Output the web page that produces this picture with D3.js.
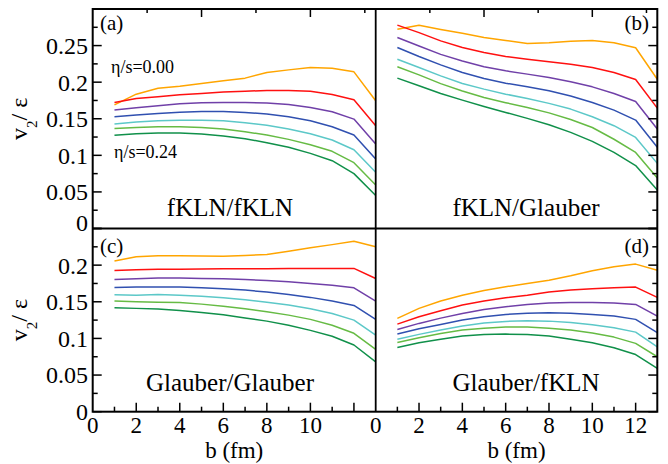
<!DOCTYPE html>
<html>
<head>
<meta charset="utf-8">
<script src="https://cdn.jsdelivr.net/npm/d3@7"></script>
<style>
  html, body { margin: 0; padding: 0; background: #fff; }
  svg { display: block; }
  text { font-family: "Liberation Serif", "Times New Roman", serif; fill: #000; }
</style>
</head>
<body>
<svg id="chart" width="668" height="464"></svg>
<script>
// ---------------- data ----------------
const bValues = [1, 2, 3, 4, 5, 6, 7, 8, 9, 10, 11, 12, 13];
const etaValues = ["0.00", "0.04", "0.08", "0.12", "0.16", "0.20", "0.24"];
const seriesColors = ["#ffa500", "#ff1010", "#7040a8", "#3050b0", "#5cc8c8", "#66bb44", "#10904a"];

// (a) fKLN/fKLN
const panelA = [
  [0.1690, 0.1836, 0.1918, 0.1945, 0.1982, 0.2018, 0.2055, 0.2132, 0.2168, 0.2200, 0.2191, 0.2141, 0.1745],
  [0.1723, 0.1777, 0.1800, 0.1827, 0.1846, 0.1864, 0.1877, 0.1886, 0.1886, 0.1877, 0.1832, 0.1759, 0.1405],
  [0.1618, 0.1650, 0.1677, 0.1705, 0.1718, 0.1723, 0.1723, 0.1714, 0.1695, 0.1655, 0.1595, 0.1495, 0.1155],
  [0.1527, 0.1550, 0.1573, 0.1590, 0.1600, 0.1600, 0.1586, 0.1564, 0.1527, 0.1473, 0.1390, 0.1277, 0.0950],
  [0.1427, 0.1455, 0.1473, 0.1480, 0.1480, 0.1473, 0.1445, 0.1410, 0.1360, 0.1295, 0.1210, 0.1077, 0.0768],
  [0.1368, 0.1380, 0.1390, 0.1390, 0.1380, 0.1360, 0.1323, 0.1277, 0.1218, 0.1145, 0.1055, 0.0900, 0.0595],
  [0.1273, 0.1295, 0.1305, 0.1305, 0.1290, 0.1264, 0.1227, 0.1173, 0.1110, 0.1027, 0.0927, 0.0750, 0.0450]
];
// (b) fKLN/Glauber
const panelB = [
  [0.2723, 0.2777, 0.2720, 0.2668, 0.2610, 0.2570, 0.2530, 0.2540, 0.2560, 0.2570, 0.2540, 0.2470, 0.2040],
  [0.2780, 0.2677, 0.2564, 0.2473, 0.2405, 0.2350, 0.2314, 0.2280, 0.2245, 0.2200, 0.2132, 0.2036, 0.1645],
  [0.2610, 0.2495, 0.2380, 0.2290, 0.2210, 0.2155, 0.2110, 0.2064, 0.2005, 0.1936, 0.1845, 0.1736, 0.1360],
  [0.2473, 0.2350, 0.2236, 0.2132, 0.2050, 0.1986, 0.1936, 0.1882, 0.1810, 0.1723, 0.1618, 0.1482, 0.1110],
  [0.2314, 0.2200, 0.2086, 0.1982, 0.1905, 0.1836, 0.1777, 0.1710, 0.1632, 0.1527, 0.1405, 0.1245, 0.0890],
  [0.2210, 0.2100, 0.1980, 0.1880, 0.1790, 0.1720, 0.1655, 0.1580, 0.1490, 0.1380, 0.1220, 0.1040, 0.0690],
  [0.2055, 0.1950, 0.1845, 0.1755, 0.1668, 0.1586, 0.1505, 0.1418, 0.1314, 0.1190, 0.1040, 0.0860, 0.0527]
];
// (c) Glauber/Glauber
const panelC = [
  [0.2055, 0.2114, 0.2127, 0.2127, 0.2125, 0.2123, 0.2132, 0.2145, 0.2190, 0.2236, 0.2280, 0.2327, 0.2250],
  [0.1927, 0.1936, 0.1945, 0.1945, 0.1948, 0.1950, 0.1950, 0.1952, 0.1955, 0.1955, 0.1955, 0.1955, 0.1818],
  [0.1805, 0.1814, 0.1823, 0.1823, 0.1818, 0.1814, 0.1805, 0.1790, 0.1773, 0.1750, 0.1727, 0.1690, 0.1510],
  [0.1695, 0.1700, 0.1700, 0.1700, 0.1690, 0.1677, 0.1660, 0.1632, 0.1600, 0.1560, 0.1510, 0.1450, 0.1260],
  [0.1595, 0.1590, 0.1600, 0.1590, 0.1577, 0.1555, 0.1527, 0.1495, 0.1455, 0.1405, 0.1340, 0.1250, 0.1045],
  [0.1510, 0.1500, 0.1495, 0.1490, 0.1468, 0.1440, 0.1405, 0.1364, 0.1318, 0.1260, 0.1180, 0.1070, 0.0850],
  [0.1418, 0.1410, 0.1400, 0.1380, 0.1355, 0.1323, 0.1280, 0.1236, 0.1180, 0.1110, 0.1030, 0.0910, 0.0680]
];
// (d) Glauber/fKLN
const panelD = [
  [0.1273, 0.1410, 0.1510, 0.1590, 0.1655, 0.1705, 0.1750, 0.1795, 0.1855, 0.1923, 0.1977, 0.2014, 0.1930],
  [0.1195, 0.1295, 0.1377, 0.1455, 0.1510, 0.1555, 0.1590, 0.1632, 0.1660, 0.1677, 0.1690, 0.1700, 0.1560],
  [0.1123, 0.1205, 0.1277, 0.1340, 0.1395, 0.1432, 0.1464, 0.1482, 0.1490, 0.1490, 0.1482, 0.1464, 0.1305],
  [0.1059, 0.1132, 0.1190, 0.1250, 0.1295, 0.1327, 0.1345, 0.1350, 0.1345, 0.1327, 0.1305, 0.1260, 0.1080],
  [0.0990, 0.1055, 0.1114, 0.1168, 0.1210, 0.1232, 0.1240, 0.1236, 0.1218, 0.1186, 0.1145, 0.1086, 0.0886],
  [0.0945, 0.1009, 0.1068, 0.1114, 0.1140, 0.1155, 0.1155, 0.1140, 0.1114, 0.1073, 0.1018, 0.0932, 0.0750],
  [0.0877, 0.0940, 0.0990, 0.1032, 0.1055, 0.1059, 0.1055, 0.1032, 0.0990, 0.0940, 0.0873, 0.0780, 0.0590]
];

const panelTitles = ["fKLN/fKLN", "fKLN/Glauber", "Glauber/Glauber", "Glauber/fKLN"];
const panelTags = ["(a)", "(b)", "(c)", "(d)"];
const xTickLabelsLeft = [0, 2, 4, 6, 8, 10];
const xTickLabelsRight = [0, 2, 4, 6, 8, 10, 12];
const yTickLabelsTop = [0, 0.05, 0.1, 0.15, 0.2, 0.25];
const yTickLabelsBottom = [0, 0.05, 0.1, 0.15, 0.2];

// ---------------- layout ----------------
const svg = d3.select("#chart");
const X0 = 92.7, XM = 375.7, X1 = 657.3;
const Y0 = 9, YM = 228.5, Y1 = 411.7;

const xLeft = d3.scaleLinear().domain([0, 13]).range([X0, XM]);
const xRight = d3.scaleLinear().domain([0, 13]).range([XM, X1]);
const yTop = d3.scaleLinear().domain([0, 0.3]).range([YM, Y0]);
const yBottom = d3.scaleLinear().domain([0, 0.25]).range([Y1, YM]);

const panels = [
  { data: panelA, x: xLeft, y: yTop, side: "left", pos: "top" },
  { data: panelB, x: xRight, y: yTop, side: "right", pos: "top" },
  { data: panelC, x: xLeft, y: yBottom, side: "left", pos: "bottom" },
  { data: panelD, x: xRight, y: yBottom, side: "right", pos: "bottom" }
];

const tickStroke = 1.5;

panels.forEach((p, i) => {
  const g = svg.append("g");
  const line = d3.line().x((d, j) => p.x(bValues[j])).y(d => p.y(d));
  // curves
  p.data.forEach((s, k) => {
    g.append("path")
      .attr("d", line(s))
      .attr("fill", "none")
      .attr("stroke", seriesColors[k])
      .attr("stroke-width", 1.5)
      .attr("stroke-linejoin", "round");
  });

  const [xa, xb] = p.x.range();
  const [ya, yb] = p.y.range(); // ya bottom, yb top

  // y ticks (inside)
  const yMajor = d3.range(0, p.y.domain()[1] + 1e-9, 0.05);
  const yMinor = d3.range(0.025, p.y.domain()[1], 0.05);
  const yx = p.side === "left" ? xa : xb;
  const dir = p.side === "left" ? 1 : -1;
  const yAxisG = g.append("g");
  yMajor.forEach(v => {
    yAxisG.append("line").attr("x1", yx).attr("x2", yx + dir * 9)
      .attr("y1", p.y(v)).attr("y2", p.y(v))
      .attr("stroke", "#000").attr("stroke-width", tickStroke);
  });
  yMinor.forEach(v => {
    yAxisG.append("line").attr("x1", yx).attr("x2", yx + dir * 5)
      .attr("y1", p.y(v)).attr("y2", p.y(v))
      .attr("stroke", "#000").attr("stroke-width", tickStroke);
  });

  if (p.pos === "bottom") {
    // bottom x ticks
    d3.range(1, 13).forEach(b => {
      const len = b % 2 === 0 ? 9 : 5;
      g.append("line").attr("x1", p.x(b)).attr("x2", p.x(b))
        .attr("y1", ya).attr("y2", ya - len)
        .attr("stroke", "#000").attr("stroke-width", tickStroke);
    });
    const labs = p.side === "left" ? xTickLabelsLeft : xTickLabelsRight;
    labs.forEach(b => {
      g.append("text").attr("x", p.x(b)).attr("y", 432.5)
        .attr("text-anchor", "middle").attr("font-size", 23).text(b);
    });
    g.append("text").attr("x", (xa + xb) / 2).attr("y", 457.5)
      .attr("text-anchor", "middle").attr("font-size", 23).text("b (fm)");
  } else {
    // top ticks every 2.5
    [2.5, 5, 7.5, 10, 12.5].forEach(b => {
      const len = (b % 5 === 0) ? 8 : 4;
      g.append("line").attr("x1", p.x(b)).attr("x2", p.x(b))
        .attr("y1", yb).attr("y2", yb + len)
        .attr("stroke", "#000").attr("stroke-width", tickStroke);
    });
  }

  if (p.side === "left") {
    const labs = p.pos === "top" ? yTickLabelsTop : yTickLabelsBottom;
    labs.forEach(v => {
      g.append("text").attr("x", 88).attr("y", p.y(v))
        .attr("dy", (p.pos === "top" && v === 0) ? "0.1em" : "0.35em")
        .attr("text-anchor", "end").attr("font-size", 24)
        .text(v === 0 ? "0" : String(v));
    });
    // y-axis title
    const t = g.append("text")
      .attr("transform", `translate(27,${(ya + yb) / 2}) rotate(-90)`)
      .attr("text-anchor", "middle").attr("font-size", 24);
    t.append("tspan").text("v");
    t.append("tspan").attr("font-size", 15).attr("dy", 10).text("2");
    t.append("tspan").attr("dy", -10).text("/ ε");
  }

  // panel tags
  const tagY = p.pos === "top" ? 30 : 252.5;
  if (p.side === "left") {
    g.append("text").attr("x", 100).attr("y", tagY).attr("font-size", 21).text(panelTags[i]);
  } else {
    g.append("text").attr("x", 649).attr("y", tagY).attr("text-anchor", "end")
      .attr("font-size", 21).text(panelTags[i]);
  }
  // panel titles
  const titleX = p.side === "left" ? 230 : 526;
  const titleY = p.pos === "top" ? 216 : 391;
  g.append("text").attr("x", titleX).attr("y", titleY).attr("text-anchor", "middle")
    .attr("font-size", 25).text(panelTitles[i]);
});

// eta/s annotations in (a)
svg.append("text").attr("x", 111).attr("y", 72.5).attr("font-size", 18).text("η/s=" + etaValues[0]);
svg.append("text").attr("x", 114).attr("y", 157.5).attr("font-size", 18).text("η/s=" + etaValues[etaValues.length - 1]);

// frame
svg.append("rect").attr("x", X0).attr("y", Y0).attr("width", X1 - X0).attr("height", Y1 - Y0)
  .attr("fill", "none").attr("stroke", "#000").attr("stroke-width", 2);
svg.append("line").attr("x1", X0).attr("x2", X1).attr("y1", YM).attr("y2", YM)
  .attr("stroke", "#000").attr("stroke-width", 2);
svg.append("line").attr("x1", XM).attr("x2", XM).attr("y1", Y0).attr("y2", Y1)
  .attr("stroke", "#000").attr("stroke-width", 1.8);
</script>
</body>
</html>
